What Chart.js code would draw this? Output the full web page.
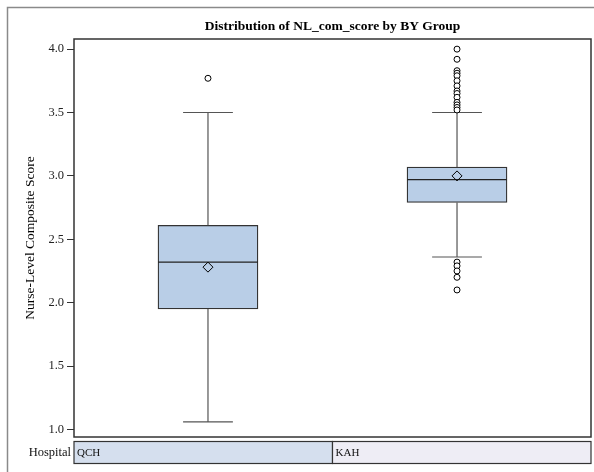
<!DOCTYPE html>
<html>
<head>
<meta charset="utf-8">
<script src="https://cdn.jsdelivr.net/npm/chart.js@4/dist/chart.umd.min.js"></script>
<style>
html,body{margin:0;padding:0;background:#fff;}
#wrap{position:relative;width:594px;height:472px;}
</style>
</head>
<body>
<div id="wrap"><canvas id="c" width="594" height="472"></canvas></div>
<script>
// ---- data ----
const categories = ['QCH', 'KAH'];
const q1 = [1.95, 2.79];
const median = [2.32, 2.97];
const q3 = [2.61, 3.07];
const whiskerLow = [1.06, 2.36];
const whiskerHigh = [3.50, 3.50];
const means = [2.28, 3.00];
const outliersQCH = [3.77];
const outliersKAH = [4.00, 3.92, 3.83, 3.81, 3.79, 3.75, 3.71, 3.67, 3.65, 3.62, 3.58, 3.56, 3.54, 3.52,
                     2.32, 2.29, 2.25, 2.20, 2.10];
const outliers = [outliersQCH, outliersKAH];
const yTicks = [1.0, 1.5, 2.0, 2.5, 3.0, 3.5, 4.0];
const stripLabel = 'Hospital';
const titleText = 'Distribution of NL_com_score by BY Group';
const yTitle = 'Nurse-Level Composite Score';

const SERIF = '"Liberation Serif", "DejaVu Serif", serif';
const capHalf = 0.1;   // whisker cap half-width (x units)
const boxHalf = 0.2;   // median line half-width (x units)

// build datasets
const boxData = categories.map((c, i) => ({x: i + 1, y: [q1[i], q3[i]]}));
const whiskerData = [];
const medianData = [];
categories.forEach((c, i) => {
  const x = i + 1;
  whiskerData.push({x: x, y: q3[i]}, {x: x, y: whiskerHigh[i]}, {x: null, y: null});
  whiskerData.push({x: x - capHalf, y: whiskerHigh[i]}, {x: x + capHalf, y: whiskerHigh[i]}, {x: null, y: null});
  whiskerData.push({x: x, y: q1[i]}, {x: x, y: whiskerLow[i]}, {x: null, y: null});
  whiskerData.push({x: x - capHalf, y: whiskerLow[i]}, {x: x + capHalf, y: whiskerLow[i]}, {x: null, y: null});
  medianData.push({x: x - boxHalf, y: median[i]}, {x: x + boxHalf, y: median[i]}, {x: null, y: null});
});
const meanData = categories.map((c, i) => ({x: i + 1, y: means[i]}));
const outlierData = [];
outliers.forEach((arr, i) => arr.forEach(v => outlierData.push({x: i + 1, y: v})));

const framePlugin = {
  id: 'frame',
  beforeDraw(chart) {
    const ctx = chart.ctx;
    ctx.save();
    ctx.strokeStyle = '#8a8a8a';
    ctx.lineWidth = 1.5;
    ctx.strokeRect(7.5, 7.5, 600, 500);
    ctx.restore();
  },
  afterDraw(chart) {
    const ctx = chart.ctx;
    const a = chart.chartArea;
    const xs = chart.scales.x;
    ctx.save();
    ctx.strokeStyle = '#333';
    ctx.lineWidth = 1.5;
    ctx.strokeRect(a.left, a.top, a.right - a.left, a.bottom - a.top);
    // title centred over the plot area
    ctx.fillStyle = '#000';
    ctx.font = 'bold 13.5px ' + SERIF;
    ctx.textAlign = 'center';
    ctx.textBaseline = 'middle';
    ctx.fillText(titleText, (a.left + a.right) / 2, 27);
    // strip
    const top = a.bottom + 4.5, h = 22;
    const bounds = [a.left];
    for (let i = 1; i < categories.length; i++) bounds.push(xs.getPixelForValue(i + 0.5));
    bounds.push(a.right);
    const fills = ['#d5dfee', '#eeedf5'];
    categories.forEach((c, i) => {
      ctx.fillStyle = fills[i % 2];
      ctx.fillRect(bounds[i], top, bounds[i + 1] - bounds[i], h);
      ctx.strokeStyle = '#333';
      ctx.lineWidth = 1.2;
      ctx.strokeRect(bounds[i], top, bounds[i + 1] - bounds[i], h);
      ctx.fillStyle = '#111';
      ctx.font = '11px ' + SERIF;
      ctx.textAlign = 'left';
      ctx.textBaseline = 'middle';
      ctx.fillText(c, bounds[i] + 3, top + h / 2 + 0.5);
    });
    ctx.font = '12.5px ' + SERIF;
    ctx.textAlign = 'right';
    ctx.fillText(stripLabel, a.left - 3, top + h / 2 + 0.5);
    ctx.restore();
  }
};

new Chart(document.getElementById('c'), {
  type: 'bar',
  data: {
    datasets: [
      {type: 'scatter', data: meanData, pointStyle: 'rectRot', radius: 5, borderColor: '#000', backgroundColor: 'rgba(0,0,0,0)', borderWidth: 1, order: 0},
      {type: 'scatter', data: outlierData, pointStyle: 'circle', radius: 3, borderColor: '#000', backgroundColor: '#fff', borderWidth: 1, order: 1},
      {type: 'line', data: medianData, borderColor: '#222', borderWidth: 1.2, pointRadius: 0, spanGaps: false, order: 2},
      {type: 'line', data: whiskerData, borderColor: '#555', borderWidth: 1.2, pointRadius: 0, spanGaps: false, order: 3},
      {type: 'bar', data: boxData, backgroundColor: '#b9cee7', borderColor: '#333', borderWidth: 1.3, borderSkipped: false, barThickness: 100, order: 4}
    ]
  },
  options: {
    responsive: false,
    animation: false,
    events: [],
    layout: {autoPadding: false, padding: {left: 0, right: 3, top: 39, bottom: 35}},
    plugins: {
      legend: {display: false},
      tooltip: {enabled: false},
      title: {display: false}
    },
    scales: {
      x: {type: 'linear', display: false, min: 0.462, max: 2.538, offset: false},
      y: {
        type: 'linear', min: 0.94, max: 4.08,
        afterBuildTicks(scale) { scale.ticks = yTicks.map(v => ({value: v})); },
        afterFit(scale) { scale.width = 74; },
        grid: {drawOnChartArea: false, drawTicks: true, tickLength: 7, tickColor: '#333', tickWidth: 1},
        border: {display: false},
        ticks: {color: '#222', padding: 3, font: {family: SERIF, size: 12.5}, callback: v => Number(v).toFixed(1)},
        title: {display: true, text: yTitle, color: '#000', font: {family: SERIF, size: 13.5}, padding: {top: 22, bottom: 0}}
      }
    }
  },
  plugins: [framePlugin]
});
</script>
</body>
</html>
